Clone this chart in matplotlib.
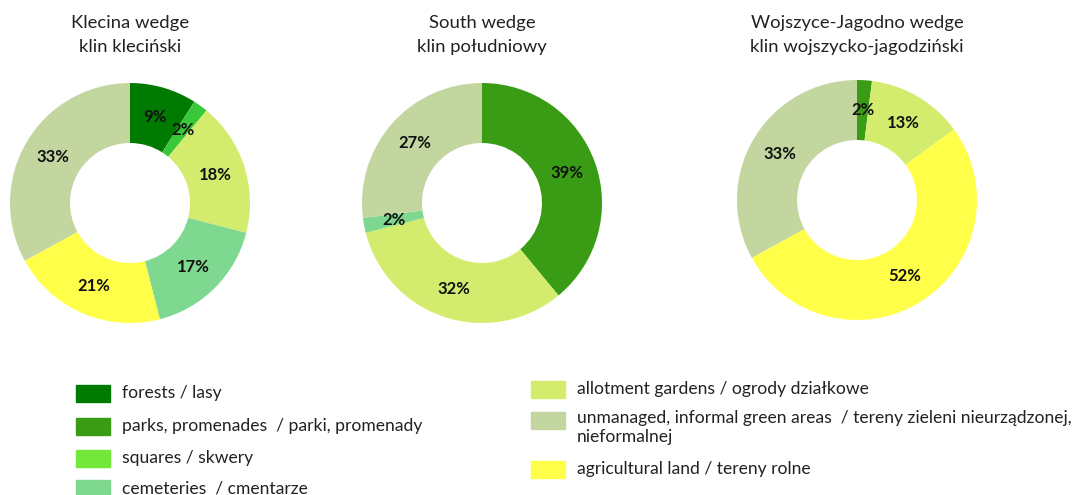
import matplotlib
matplotlib.use("Agg")
import matplotlib.pyplot as plt
from matplotlib.patches import Rectangle

W, H = 1079, 495

# categories and colours
categories = ["forests / lasy",
              "parks, promenades  / parki, promenady",
              "squares / skwery",
              "cemeteries  / cmentarze",
              "allotment gardens / ogrody działkowe",
              "unmanaged, informal green areas  / tereny zieleni nieurządzonej,\nnieformalnej",
              "agricultural land / tereny rolne"]
colors = ["#007A00", "#3A9C14", "#74E83A", "#7FD88F", "#D4EC6E", "#C4D6A0", "#FFFF4A"]

# wedges: (title, category indices clockwise from top, values in %)
titles = ["Klecina wedge\nklin kleciński",
          "South wedge\nklin południowy",
          "Wojszyce-Jagodno wedge\nklin wojszycko-jagodziński"]
klecina_cats = [0, 2, 4, 3, 6, 5]
klecina_vals = [9, 2, 18, 17, 21, 33]
south_cats = [1, 4, 3, 5]
south_vals = [39, 32, 2, 27]
wojszyce_cats = [1, 4, 6, 5]
wojszyce_vals = [2, 13, 52, 33]

plt.rcParams['font.family'] = ['Lato', 'DejaVu Sans']

fig = plt.figure(figsize=(W / 100, H / 100), dpi=100)


def px_axes(cx, cy, r):
    return fig.add_axes([(cx - r) / W, 1 - (cy + r) / H, 2 * r / W, 2 * r / H])


centres = [(130, 203), (482, 203), (857, 200)]
data = [(klecina_cats, klecina_vals), (south_cats, south_vals), (wojszyce_cats, wojszyce_vals)]
slice_override = {0: {2: "#38C838"}}  # brighter squares slice in first chart

for i, ((cx, cy), (cats, vals), title) in enumerate(zip(centres, data, titles)):
    ax = px_axes(cx, cy, 120)
    cols = [slice_override.get(i, {}).get(c, colors[c]) for c in cats]
    wedges, texts, autotexts = ax.pie(
        vals, colors=cols, startangle=90, counterclock=False,
        radius=1, wedgeprops=dict(width=0.5, linewidth=0),
        autopct=lambda p: f"{p:.0f}%", pctdistance=0.75,
        textprops=dict(fontsize=12, fontweight="bold", color="#111111"))
    ax.set_xlim(-1, 1)
    ax.set_ylim(-1, 1)
    ax.set_aspect("equal")
    fig.text(cx / W, 1 - 35 / H, title, ha="center", va="center",
             fontsize=13.3, color="#222222", linespacing=1.55)

# legend drawn as swatches + text
left_rows = [(0, 393), (1, 426), (2, 458), (3, 489)]
right_rows = [(4, 389), (5, 420), (6, 469)]
for rows, x0 in [(left_rows, 76), (right_rows, 531)]:
    for c, y in rows:
        fig.patches.append(Rectangle((x0 / W, 1 - (y + 8.5) / H), 34 / W, 17 / H,
                                     transform=fig.transFigure, color=colors[c]))
        multi = "\n" in categories[c]
        fig.text((x0 + 46) / W, 1 - (y - 10 if multi else y) / H, categories[c], ha="left",
                 va="top" if multi else "center",
                 fontsize=12.6, color="#222222", linespacing=1.2)

fig.savefig("out.png", dpi=100)
